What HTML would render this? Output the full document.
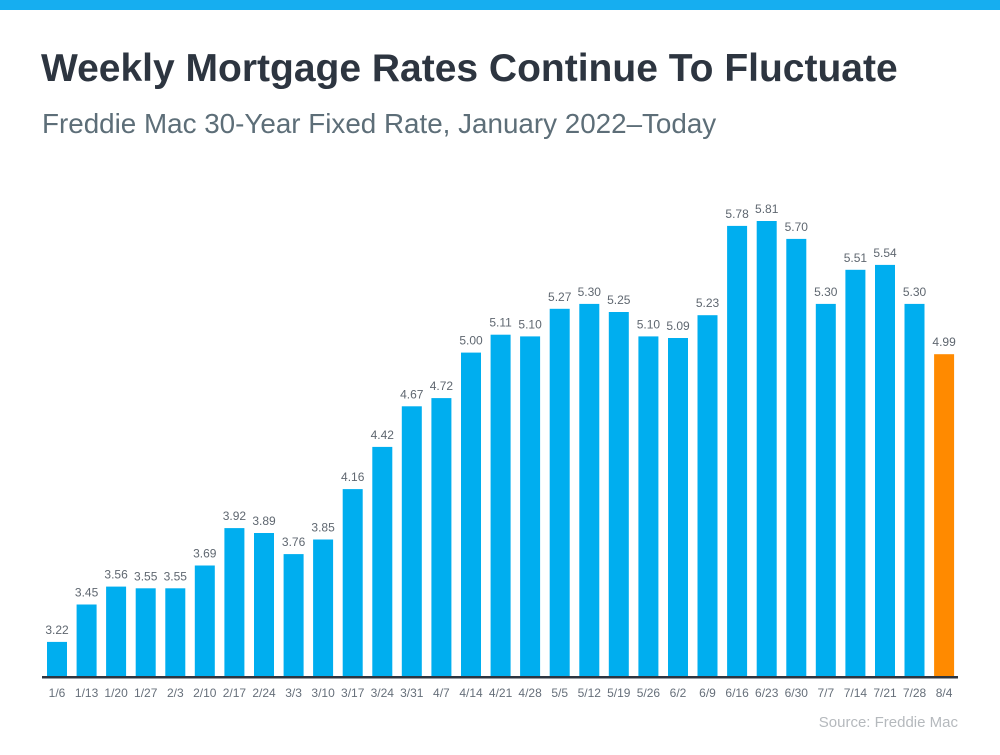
<!DOCTYPE html>
<html><head><meta charset="utf-8"><style>
html,body{margin:0;padding:0;background:#fff;}
body{width:1000px;height:750px;overflow:hidden;font-family:"Liberation Sans",Arial,sans-serif;}
</style></head><body>
<svg id="s" width="1000" height="750" xmlns="http://www.w3.org/2000/svg" font-family="Liberation Sans, Arial, sans-serif">
<rect x="0" y="0" width="1000" height="10" fill="#16aef0"/>
<text x="41" y="81" font-size="39" font-weight="bold" fill="#2d3540">Weekly Mortgage Rates Continue To Fluctuate</text>
<text x="42" y="133" font-size="27.8" fill="#5d6e78">Freddie Mac 30-Year Fixed Rate, January 2022–Today</text>
<text x="958" y="727" font-size="15" fill="#b5b9bd" text-anchor="end">Source: Freddie Mac</text>
<g id="bars"></g>
<rect x="42" y="676" width="916" height="2.5" fill="#2d3540"/>
</svg>
<script>
var v=[3.22,3.45,3.56,3.55,3.55,3.69,3.92,3.89,3.76,3.85,4.16,4.42,4.67,4.72,5.00,5.11,5.10,5.27,5.30,5.25,5.10,5.09,5.23,5.78,5.81,5.70,5.30,5.51,5.54,5.30,4.99];
var d=["1/6","1/13","1/20","1/27","2/3","2/10","2/17","2/24","3/3","3/10","3/17","3/24","3/31","4/7","4/14","4/21","4/28","5/5","5/12","5/19","5/26","6/2","6/9","6/16","6/23","6/30","7/7","7/14","7/21","7/28","8/4"];
var h="";
for(var i=0;i<v.length;i++){
var x=47+i*29.57,t=676-(v[i]-3.01)*162.5,c=x+10;
h+='<rect x="'+x.toFixed(1)+'" y="'+t.toFixed(1)+'" width="20" height="'+(677-t).toFixed(1)+'" fill="'+(i==30?'#ff8a00':'#00aeef')+'"/>';
h+='<text x="'+c.toFixed(1)+'" y="'+(t-8).toFixed(1)+'" font-size="12" fill="#5f6770" text-anchor="middle">'+v[i].toFixed(2)+'</text>';
h+='<text x="'+c.toFixed(1)+'" y="697" font-size="12" fill="#666f7a" text-anchor="middle">'+d[i]+'</text>';
}
document.getElementById("bars").innerHTML=h;
</script>
</body></html>
